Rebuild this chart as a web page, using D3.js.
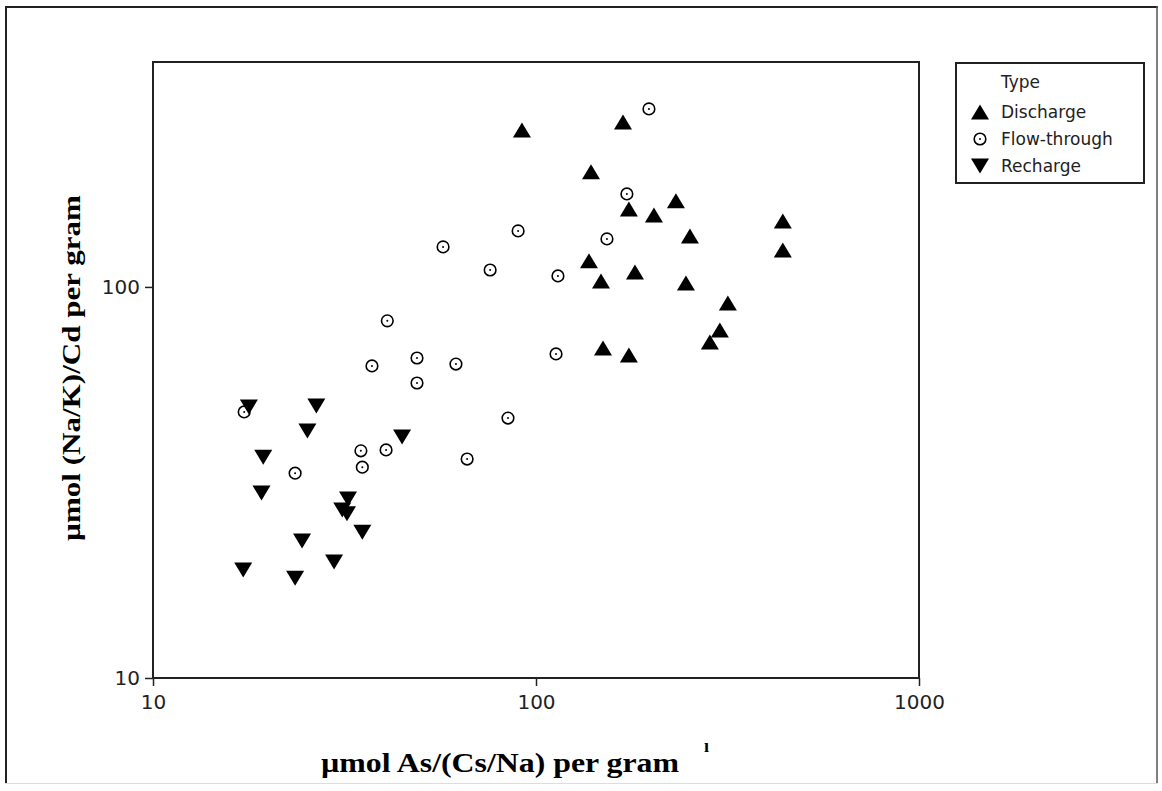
<!DOCTYPE html>
<html>
<head>
<meta charset="utf-8">
<script src="https://cdn.jsdelivr.net/npm/d3@7/dist/d3.min.js"></script>
<style>
  html, body { margin: 0; padding: 0; background: #fff; }
  svg { display: block; }
</style>
</head>
<body>
<svg id="chart" width="1162" height="791"></svg>
<script>
// ---- Data ----
const seriesNames = ["Discharge", "Flow-through", "Recharge"];
const legendTitle = "Type";
const xTitle = "µmol As/(Cs/Na) per gram";
const yTitle = "µmol (Na/K)/Cd per gram";
const xTicks = [10, 100, 1000];
const yTicks = [10, 100];

const dischargeX = [91.9, 168.7, 139.2, 174.8, 203.2, 231.9, 252.3, 441, 441, 137.5, 147.8, 181.3, 246.3, 316.9, 302, 284.4, 149.6, 174.8];
const dischargeY = [252, 264, 196.9, 158.3, 152.8, 166, 135, 147.5, 124.3, 116.6, 103.6, 109.2, 102.4, 91.0, 77.6, 72.3, 69.8, 67.0];

const flowX = [197.2, 172.7, 153.2, 114.1, 112.8, 89.8, 57.2, 75.9, 40.9, 37.3, 48.9, 48.9, 61.8, 84.5, 40.6, 34.9, 35.2, 66.1, 17.3, 23.5];
const flowY = [285.3, 172.9, 132.7, 106.7, 67.4, 139.1, 126.6, 110.5, 81.9, 62.8, 65.8, 56.8, 63.5, 46.2, 38.3, 38.1, 34.6, 36.3, 47.9, 33.4];

const rechargeX = [17.8, 26.7, 25.3, 19.4, 19.2, 44.7, 32.3, 31.2, 32.1, 35.2, 24.5, 29.7, 17.2, 23.5];
const rechargeY = [49.3, 49.6, 42.8, 36.7, 29.7, 41.3, 28.7, 26.9, 26.3, 23.6, 22.4, 19.8, 18.9, 18.0];

// ---- Layout ----
const svg = d3.select("#chart");
const plot = { left: 153, top: 62, right: 919, bottom: 678 };

const x = d3.scaleLog().domain([10, 1000]).range([plot.left, plot.right]);
const y = d3.scaleLog().domain([10, 376]).range([plot.bottom, plot.top]);

// outer frame
svg.append("line").attr("x1", 6).attr("y1", 6).attr("x2", 6).attr("y2", 784).attr("stroke", "#222").attr("stroke-width", 2);
svg.append("line").attr("x1", 5).attr("y1", 7).attr("x2", 1158).attr("y2", 7).attr("stroke", "#222").attr("stroke-width", 2);
svg.append("line").attr("x1", 1157).attr("y1", 6).attr("x2", 1157).attr("y2", 784).attr("stroke", "#555").attr("stroke-width", 1.5);
svg.append("line").attr("x1", 5).attr("y1", 783.5).attr("x2", 1158).attr("y2", 783.5).attr("stroke", "#ddd").attr("stroke-width", 1);

// plot frame
svg.append("rect")
  .attr("x", plot.left).attr("y", plot.top)
  .attr("width", plot.right - plot.left).attr("height", plot.bottom - plot.top)
  .attr("fill", "none").attr("stroke", "#222").attr("stroke-width", 2);

// axes
const xAxis = d3.axisBottom(x).tickValues(xTicks).tickFormat(d3.format("d")).tickSize(8).tickPadding(9);
const yAxis = d3.axisLeft(y).tickValues(yTicks).tickFormat(d3.format("d")).tickSize(8).tickPadding(5);

const gx = svg.append("g").attr("transform", `translate(0,${plot.bottom})`).call(xAxis);
const gy = svg.append("g").attr("transform", `translate(${plot.left},0)`).call(yAxis);
[gx, gy].forEach(g => {
  g.select(".domain").remove();
  g.selectAll(".tick line").attr("stroke", "#222").attr("stroke-width", 1.5);
  g.selectAll(".tick text").attr("fill", "#222")
    .style("font-family", "'DejaVu Sans', sans-serif").style("font-size", "20px");
});

// axis titles
svg.append("text")
  .attr("x", 321).attr("y", 772)
  .attr("textLength", 358).attr("lengthAdjust", "spacingAndGlyphs")
  .style("font-family", "'Liberation Serif', 'Times New Roman', serif")
  .style("font-weight", "bold").style("font-size", "27px").attr("fill", "#000")
  .text(xTitle);

svg.append("text").attr("x", 704).attr("y", 752)
  .style("font-family", "'Liberation Serif', serif").style("font-weight", "bold")
  .style("font-size", "18px").attr("fill", "#000")
  .text("ı");

svg.append("text")
  .attr("transform", "translate(80,541) rotate(-90)")
  .attr("x", 0).attr("y", 0)
  .attr("textLength", 346).attr("lengthAdjust", "spacingAndGlyphs")
  .style("font-family", "'Liberation Serif', 'Times New Roman', serif")
  .style("font-weight", "bold").style("font-size", "26px").attr("fill", "#000")
  .text(yTitle);

// symbols
function triDownPath(cx, cy, w, h) {
  return `M${cx - w / 2},${cy - h / 2}L${cx + w / 2},${cy - h / 2}L${cx},${cy + h / 2}Z`;
}
function triUpPath(cx, cy, w, h) {
  return `M${cx - w / 2},${cy + h / 2}L${cx + w / 2},${cy + h / 2}L${cx},${cy - h / 2}Z`;
}

const dischargeData = dischargeX.map((v, i) => ({ x: v, y: dischargeY[i] }));
const flowData = flowX.map((v, i) => ({ x: v, y: flowY[i] }));
const rechargeData = rechargeX.map((v, i) => ({ x: v, y: rechargeY[i] }));

const marks = svg.append("g");

function drawUp(g, cx, cy) {
  g.append("path").attr("d", triUpPath(cx, cy, 18, 15)).attr("fill", "#000");
}
function drawDown(g, cx, cy) {
  g.append("path").attr("d", triDownPath(cx, cy, 18, 15)).attr("fill", "#000");
}
function drawCircle(g, cx, cy) {
  g.append("circle").attr("cx", cx).attr("cy", cy).attr("r", 5.8)
    .attr("fill", "none").attr("stroke", "#000").attr("stroke-width", 1.6);
  g.append("circle").attr("cx", cx).attr("cy", cy).attr("r", 1).attr("fill", "#000");
}

rechargeData.forEach(d => drawDown(marks, x(d.x), y(d.y)));
flowData.forEach(d => drawCircle(marks, x(d.x), y(d.y)));
dischargeData.forEach(d => drawUp(marks, x(d.x), y(d.y)));

// legend
const legend = svg.append("g");
legend.append("rect").attr("x", 956).attr("y", 63).attr("width", 188).attr("height", 120)
  .attr("fill", "#fff").attr("stroke", "#222").attr("stroke-width", 2);
const lfont = "'DejaVu Sans', Verdana, sans-serif";
legend.append("text").attr("x", 1001).attr("y", 88).text(legendTitle)
  .style("font-family", lfont).style("font-size", "17px").attr("fill", "#222");
const rows = [118, 145, 172];
seriesNames.forEach((name, i) => {
  const cy = rows[i] - 6;
  if (i === 0) drawUp(legend, 980, cy);
  else if (i === 1) drawCircle(legend, 980, cy);
  else drawDown(legend, 980, cy);
  legend.append("text").attr("x", 1001).attr("y", rows[i]).text(name)
    .style("font-family", lfont).style("font-size", "17px").attr("fill", "#222");
});
</script>
</body>
</html>
